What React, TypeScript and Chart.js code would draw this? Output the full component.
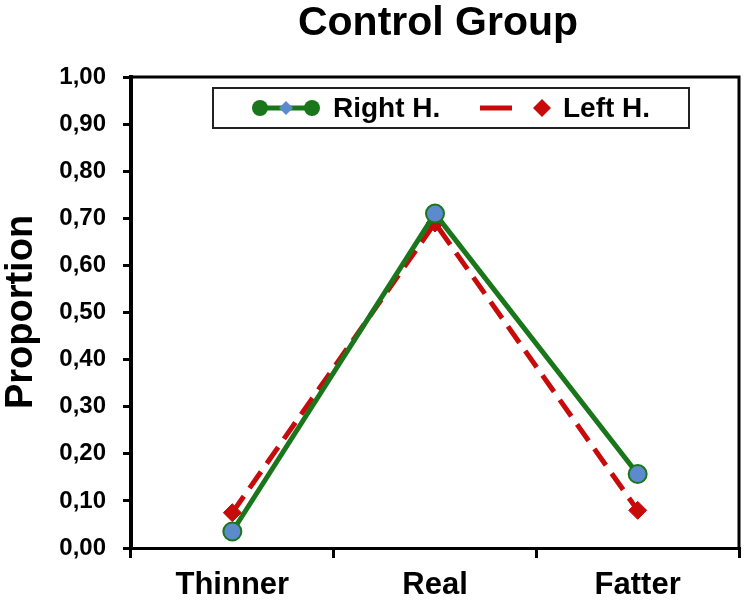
import React, { useEffect, useRef } from 'react';
import { Chart, registerables } from 'chart.js';

Chart.register(...registerables);

const categories = ['Thinner', 'Real', 'Fatter'];
const rightH = [0.035, 0.71, 0.157];
const leftH = [0.075, 0.69, 0.08];
const seriesLabels = ['Right H.', 'Left H.'];
const chartTitle = 'Control Group';
const yAxisTitle = 'Proportion';

const GREEN = '#1a761a';
const BLUE = '#5b8bcd';
const RED = '#c80a0a';
const FONT = 'Arial, "Liberation Sans", sans-serif';

const decorPlugin = {
  id: 'decor',
  beforeDatasetsDraw(chart: any) {
    const { ctx, chartArea } = chart;
    const { left, right, top, bottom } = chartArea;
    ctx.save();
    ctx.strokeStyle = '#000';
    ctx.lineWidth = 3;
    ctx.beginPath();
    ctx.moveTo(left, top);
    ctx.lineTo(right, top);
    ctx.lineTo(right, bottom);
    ctx.stroke();
    ctx.restore();
  },
  afterDraw(chart: any) {
    const { ctx, chartArea } = chart;
    const { left, right, top, bottom } = chartArea;
    ctx.save();
    // Title
    ctx.fillStyle = '#000';
    ctx.font = `bold 41px ${FONT}`;
    ctx.textAlign = 'center';
    ctx.textBaseline = 'alphabetic';
    ctx.fillText(chartTitle, (left + right) / 2 + 3, 35);
    // Y axis title
    ctx.save();
    ctx.translate(32, 312);
    ctx.rotate(-Math.PI / 2);
    ctx.font = `bold 38px ${FONT}`;
    ctx.textAlign = 'center';
    ctx.fillText(yAxisTitle, 0, 0);
    ctx.restore();

    // Legend box
    const bx = 213, by = 88, bw = 476, bh = 40;
    ctx.fillStyle = '#fff';
    ctx.fillRect(bx, by, bw, bh);
    ctx.strokeStyle = '#222';
    ctx.lineWidth = 2;
    ctx.strokeRect(bx, by, bw, bh);
    const cy = by + bh / 2;
    // Right H. symbol
    ctx.strokeStyle = GREEN;
    ctx.lineWidth = 5;
    ctx.beginPath();
    ctx.moveTo(253, cy);
    ctx.lineTo(319, cy);
    ctx.stroke();
    ctx.fillStyle = GREEN;
    [260, 312].forEach((x) => {
      ctx.beginPath();
      ctx.arc(x, cy, 8, 0, Math.PI * 2);
      ctx.fill();
    });
    ctx.fillStyle = BLUE;
    ctx.beginPath();
    ctx.moveTo(286, cy - 7);
    ctx.lineTo(293, cy);
    ctx.lineTo(286, cy + 7);
    ctx.lineTo(279, cy);
    ctx.closePath();
    ctx.fill();
    ctx.fillStyle = '#000';
    ctx.font = `bold 28px ${FONT}`;
    ctx.textAlign = 'left';
    ctx.textBaseline = 'middle';
    ctx.fillText(seriesLabels[0], 333, cy + 1);
    // Left H. symbol
    ctx.strokeStyle = RED;
    ctx.lineWidth = 5;
    ctx.beginPath();
    ctx.moveTo(480, cy);
    ctx.lineTo(512, cy);
    ctx.stroke();
    ctx.fillStyle = RED;
    ctx.beginPath();
    ctx.moveTo(542, cy - 9);
    ctx.lineTo(551, cy);
    ctx.lineTo(542, cy + 9);
    ctx.lineTo(533, cy);
    ctx.closePath();
    ctx.fill();
    ctx.fillStyle = '#000';
    ctx.fillText(seriesLabels[1], 563, cy + 1);
    ctx.restore();
  },
};

export default function App() {
  const ref = useRef<HTMLCanvasElement | null>(null);
  useEffect(() => {
    if (!ref.current) return;
    const chart = new Chart(ref.current, {
      type: 'line',
      data: {
        labels: categories,
        datasets: [
          {
            label: seriesLabels[0],
            data: rightH,
            borderColor: GREEN,
            borderWidth: 5,
            pointStyle: 'circle',
            pointRadius: 9,
            pointBackgroundColor: BLUE,
            pointBorderColor: GREEN,
            pointBorderWidth: 2,
            tension: 0,
            fill: false,
          },
          {
            label: seriesLabels[1],
            data: leftH,
            borderColor: RED,
            borderWidth: 5,
            borderDash: [20, 10],
            pointStyle: 'rectRot',
            pointRadius: 9,
            pointBackgroundColor: RED,
            pointBorderColor: RED,
            pointBorderWidth: 1,
            tension: 0,
            fill: false,
          },
        ],
      },
      options: {
        responsive: false,
        animation: false,
        layout: { padding: { top: 77, right: 7, left: 0, bottom: 0 } },
        plugins: {
          legend: { display: false },
          title: { display: false },
          tooltip: { enabled: false },
        },
        scales: {
          x: {
            type: 'category',
            offset: true,
            grid: {
              offset: true,
              drawOnChartArea: false,
              drawTicks: true,
              tickLength: 10,
              color: '#000',
              lineWidth: 3,
            },
            border: { color: '#000', width: 3 },
            ticks: {
              color: '#000',
              font: { family: FONT, weight: 'bold', size: 31 },
              padding: 9,
              maxRotation: 0,
            },
            afterFit: (s: any) => {
              s.height = 54;
            },
          },
          y: {
            min: 0,
            max: 1,
            grid: {
              drawOnChartArea: false,
              drawTicks: true,
              tickLength: 8,
              color: '#000',
              lineWidth: 3,
            },
            border: { color: '#000', width: 4 },
            ticks: {
              stepSize: 0.1,
              color: '#000',
              font: { family: FONT, weight: 'bold', size: 24 },
              padding: 17,
              callback: (v: any) => Number(v).toFixed(2).replace('.', ','),
            },
            afterFit: (s: any) => {
              s.width = 131;
            },
          },
        },
      },
      plugins: [decorPlugin],
    });
    return () => chart.destroy();
  }, []);
  return (
    <div style={{ position: 'absolute', left: 0, top: 0, width: 750, height: 602 }}>
      <canvas ref={ref} width={750} height={602} style={{ display: 'block' }} />
    </div>
  );
}
